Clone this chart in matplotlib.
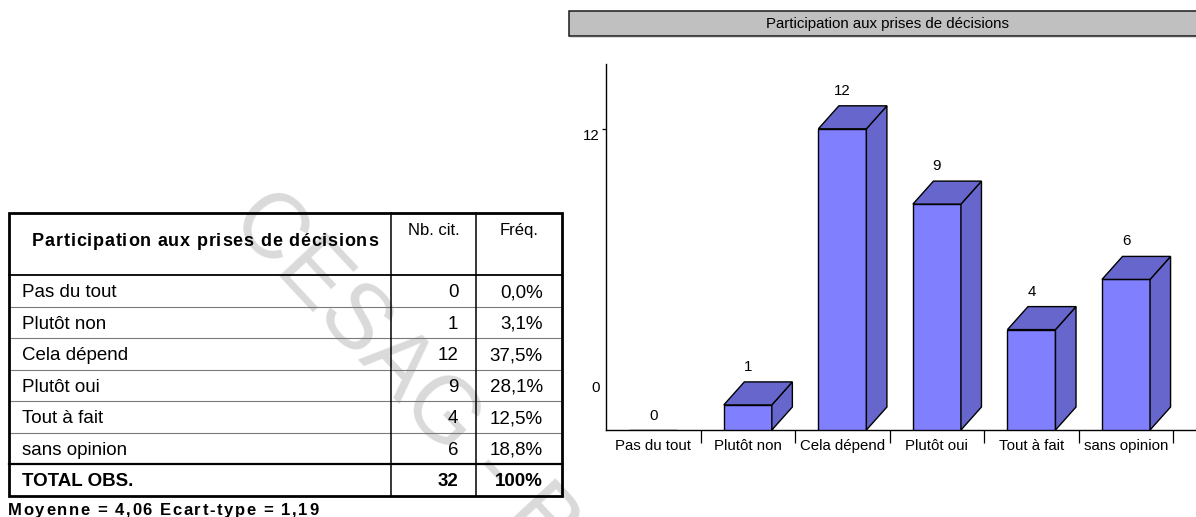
import matplotlib
matplotlib.use("Agg")
import matplotlib.pyplot as plt
from matplotlib.patches import Polygon, Rectangle
from matplotlib.font_manager import FontProperties

# survey answers
categories = ["Pas du tout", "Plutôt non", "Cela dépend", "Plutôt oui", "Tout à fait", "sans opinion"]
counts = [0, 1, 12, 9, 4, 6]
freqs = ["0,0%", "3,1%", "37,5%", "28,1%", "12,5%", "18,8%"]
total_label = "TOTAL OBS."
total_count = "32"
total_freq = "100%"
title = "Participation aux prises de décisions"
col_heads = ["Nb. cit.", "Fréq."]
stats_line = "Moyenne = 4,06 Ecart-type = 1,19"
watermark = "CESAG - BIBLIOTHEQUE"

plt.rcParams['font.family'] = ['Liberation Sans', 'DejaVu Sans']

W, H = 1196, 517
fig = plt.figure(figsize=(W / 100, H / 100), dpi=100)

# full-figure layer in pixel units for the table, the title strip and the watermark
bg = fig.add_axes([0, 0, 1, 1])
bg.set_xlim(0, W)
bg.set_ylim(H, 0)
bg.axis('off')

renderer = fig.canvas.get_renderer()


def spaced_text(ax, x, y, s, track, size, weight='normal', **kw):
    # draw a string char by char with extra letter spacing (pixels)
    fp = FontProperties(family=plt.rcParams['font.family'], size=size, weight=weight)
    w0 = renderer.get_text_width_height_descent("II", fp, ismath=False)[0]
    for ch in s:
        ax.text(x, y, ch, fontproperties=fp, ha='left', va='baseline', **kw)
        w1 = renderer.get_text_width_height_descent("I" + ch + "I", fp, ismath=False)[0]
        x += (w1 - w0) + track


# pale watermark, kept under everything
bg.text(228, 222, watermark, rotation=-47, rotation_mode='anchor', ha='left', va='baseline',
        fontsize=66, color='#dadada', zorder=0)

# ---- table ----
left, right = 9.3, 561.7
top, head_bot = 212.7, 275.0
col1, col2 = 390.7, 476.0
row_h = 31.5
n = len(categories)
row_edges = [head_bot + row_h * k for k in range(n + 2)]
bottom = row_edges[-1]

for yy in row_edges[1:n]:
    bg.plot([left, right], [yy, yy], color='#7a7a7a', lw=0.8, zorder=2)
bg.plot([left, right], [head_bot, head_bot], color='black', lw=1.3, zorder=3)
bg.plot([left, right], [row_edges[n], row_edges[n]], color='black', lw=1.6, zorder=3)
for xx in (col1, col2):
    bg.plot([xx, xx], [top, bottom], color='black', lw=1.1, zorder=3)
bg.add_patch(Rectangle((left, top), right - left, bottom - top, fill=False,
                       ec='black', lw=2.0, zorder=4))

spaced_text(bg, 32, 245.5, title, 0.8, 13, weight='bold', color='black', zorder=5)
bg.text((col1 + col2) / 2, 235, col_heads[0], ha='center', va='baseline', fontsize=12, zorder=5)
bg.text((col2 + right) / 2, 235, col_heads[1], ha='center', va='baseline', fontsize=12, zorder=5)

body_fs = 13.5
for k in range(n):
    base = (row_edges[k] + row_edges[k + 1]) / 2 + 6.7
    bg.text(21.7, base, categories[k], ha='left', va='baseline', fontsize=body_fs, zorder=5)
    bg.text(458.3, base, str(counts[k]), ha='right', va='baseline', fontsize=body_fs, zorder=5)
    bg.text(542.7, base, freqs[k], ha='right', va='baseline', fontsize=body_fs, zorder=5)
base = (row_edges[n] + row_edges[n + 1]) / 2 + 6.7
bg.text(21.7, base, total_label, ha='left', va='baseline', fontsize=body_fs, weight='bold', zorder=5)
bg.text(458.3, base, total_count, ha='right', va='baseline', fontsize=body_fs, weight='bold', zorder=5)
bg.text(542.7, base, total_freq, ha='right', va='baseline', fontsize=body_fs, weight='bold', zorder=5)

spaced_text(bg, 8, 515, stats_line, 1.6, 12, weight='bold', color='black', zorder=5)

# ---- title strip over the chart ----
bg.add_patch(Rectangle((569.3, 10.7), 650, 25, fc='#c0c0c0', ec='#1a1a1a', lw=1.1, zorder=2))
bg.plot([570, W], [37, 37], color='#dcdcdc', lw=0.8, zorder=1)
bg.text(887, 24, title, ha='center', va='center', fontsize=10.8, zorder=3)

# ---- pseudo 3D bar chart ----
ax = fig.add_axes([606 / W, (H - 430) / H, 590 / W, (430 - 64.3) / H])
ax.set_xlim(-0.5, 5.74)
ax.set_ylim(0, 14.57)
ax.patch.set_alpha(0)

bw = 0.508
dx, dy = 0.217, 0.916
front = '#8080ff'
shade = '#6666cc'
xs = list(range(len(categories)))

ax.bar(xs, counts, width=bw, color=front, edgecolor='black', linewidth=1.0, zorder=3)
for x, v in zip(xs, counts):
    if v > 0:
        r = x + bw / 2
        l = x - bw / 2
        ax.add_patch(Polygon([(r, 0), (r + dx, dy), (r + dx, v + dy), (r, v)],
                             closed=True, fc=shade, ec='black', lw=1.0, zorder=3))
        ax.add_patch(Polygon([(l, v), (l + dx, v + dy), (r + dx, v + dy), (r, v)],
                             closed=True, fc=shade, ec='black', lw=1.0, zorder=3))
        ax.annotate(str(v), xy=(x, v + dy), xytext=(0, 15), textcoords='offset pixels',
                    ha='center', va='center', fontsize=10.8)
    else:
        ax.annotate(str(v), xy=(x, 0), xytext=(0, 14), textcoords='offset pixels',
                    ha='center', va='center', fontsize=10.8)

for side in ('top', 'right'):
    ax.spines[side].set_visible(False)
for side in ('left', 'bottom'):
    ax.spines[side].set_linewidth(1.0)
    ax.spines[side].set_color('black')

ax.set_xticks(xs, labels=categories, fontsize=10.8)
ax.set_xticks([x + 0.5 for x in xs], minor=True)
ax.tick_params(axis='x', which='major', length=0, pad=6.5)
ax.tick_params(axis='x', which='minor', length=9.4, width=0.9, direction='out')

ax.set_yticks([12], labels=['12'], fontsize=10.8, va='top')
ax.tick_params(axis='y', which='major', length=2.9, width=0.9, pad=1.5)
ax.annotate("0", xy=(0, 0), xycoords=('axes fraction', 'data'), xytext=(-6, 42),
            textcoords='offset pixels', ha='right', va='center', fontsize=10.8)

fig.savefig("out.png", dpi=100)
